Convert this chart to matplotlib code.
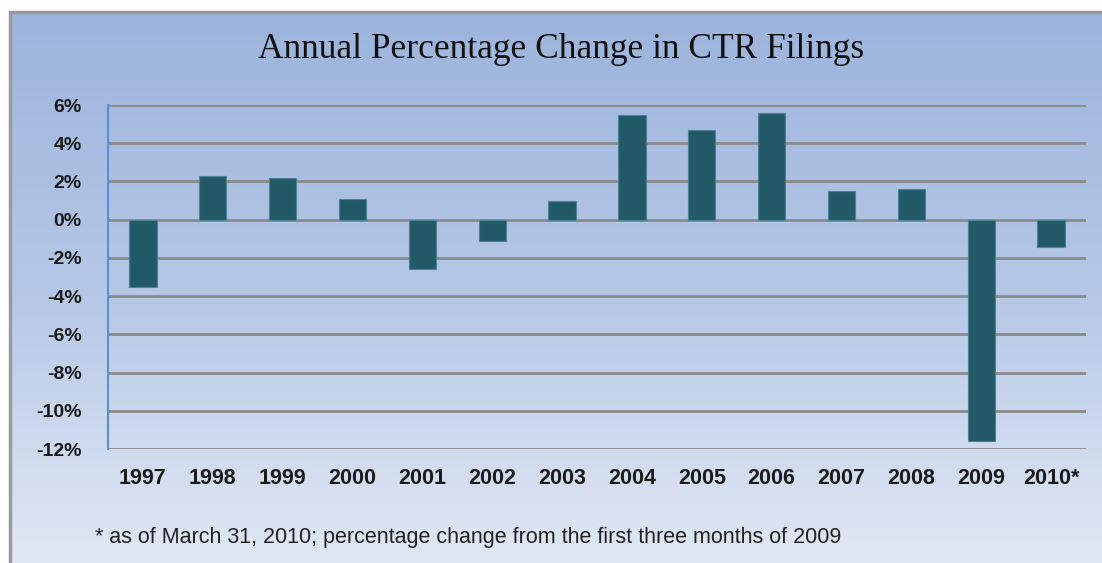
import numpy as np
import matplotlib
matplotlib.use("Agg")
import matplotlib.pyplot as plt
from matplotlib.colors import LinearSegmentedColormap
from matplotlib.patches import Rectangle

# values (percent change)
years = ["1997", "1998", "1999", "2000", "2001", "2002", "2003",
         "2004", "2005", "2006", "2007", "2008", "2009", "2010*"]
pct_change = [-3.5, 2.3, 2.2, 1.1, -2.6, -1.1, 1.0,
              5.5, 4.7, 5.6, 1.5, 1.6, -11.6, -1.45]
y_ticks = [6, 4, 2, 0, -2, -4, -6, -8, -10, -12]

title = "Annual Percentage Change in CTR Filings"
footnote = "* as of March 31, 2010; percentage change from the first three months of 2009"

W, H = 1102, 563
fig = plt.figure(figsize=(W / 100, H / 100), dpi=100)
fig.patch.set_facecolor("white")

# gradient background box
bg = fig.add_axes([10 / W, 0, 1 - 10 / W, 1 - 12 / H])
cmap = LinearSegmentedColormap.from_list("bg", ["#9cb4dc", "#b5c7e6", "#e1e8f4"])
grad = np.linspace(0, 1, 256).reshape(-1, 1)
bg.imshow(grad, aspect="auto", cmap=cmap, extent=[0, 1, 0, 1], origin="upper")
bg.set_xlim(0, 1)
bg.set_ylim(0, 1)
bg.axis("off")
bg.add_patch(Rectangle((0, -0.2), 1.2, 1.2, fill=False, edgecolor="#9a9a9a", lw=2.5,
                       transform=bg.transAxes, clip_on=False))

ax = fig.add_axes([108 / W, 1 - 449 / H, (1086 - 108) / W, (449 - 105) / H])
ax.patch.set_alpha(0)
x = np.arange(len(years))
ax.bar(x, pct_change, width=0.39, color="#215a66", edgecolor="#4f8290",
       linewidth=0.8, zorder=3)

ax.set_xlim(-0.5, len(years) - 0.5)
ax.set_ylim(-12, 6)
ax.set_yticks(y_ticks)
ax.set_yticklabels([f"{v}%" for v in y_ticks], fontfamily="Liberation Sans",
                   fontweight="bold", fontsize=14, color="#1a1a1a")
ax.set_xticks(x)
ax.set_xticklabels(years, fontfamily="Liberation Sans", fontweight="bold",
                   fontsize=15.5, color="#1a1a1a")
ax.tick_params(axis="y", length=0, pad=19)
ax.tick_params(axis="x", length=0, pad=14)

ax.yaxis.grid(True, color="#8a8a8a", linewidth=2, zorder=1)
for s in ["top", "right", "bottom"]:
    ax.spines[s].set_visible(False)
ax.spines["left"].set_color("#5b8fd6")
ax.spines["left"].set_linewidth(1.5)

fig.text(561 / W, 1 - 50 / H, title, ha="center", va="center",
         fontfamily="Liberation Serif", fontsize=25.5, color="#111111")
fig.text(95 / W, 1 - 537 / H, footnote, ha="left", va="center",
         fontfamily="Liberation Sans", fontsize=15.5, color="#222222")

fig.savefig("out.png", dpi=100)
